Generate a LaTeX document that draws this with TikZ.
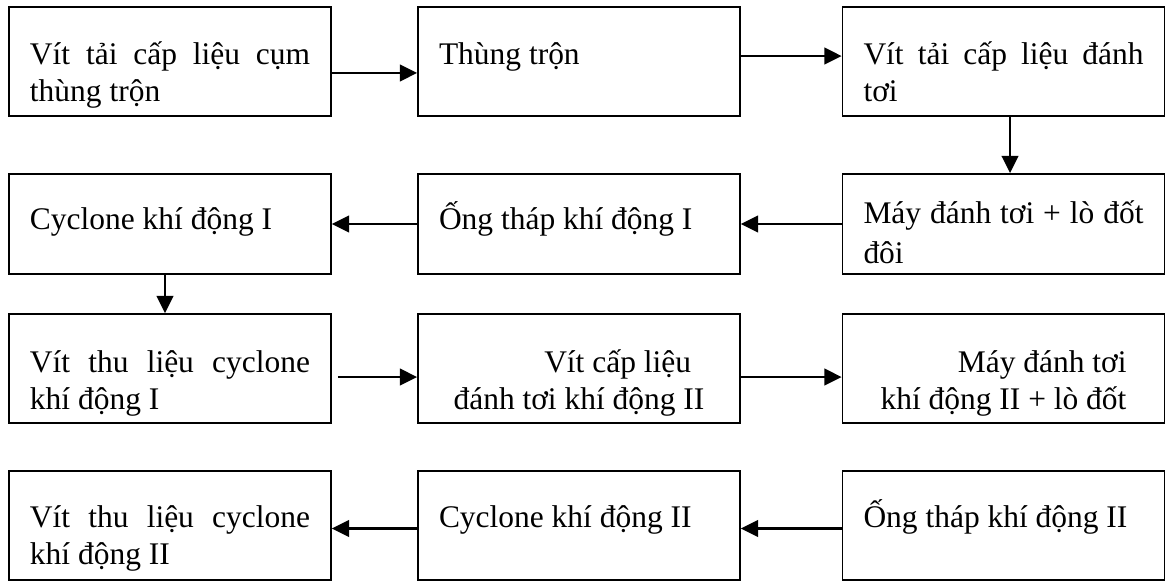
\documentclass[tikz,border=0pt]{standalone}
\usepackage{fontspec}
\setmainfont{Liberation Serif}
\usetikzlibrary{arrows.meta}

\begin{document}
\begin{tikzpicture}[x=0.75pt, y=-0.75pt,
		flowbox/.style 2 args={draw, rectangle, line width=1.3pt,
			inner xsep=15.75pt, inner ysep=0pt,
			font=\fontsize{23.6}{27.75}\selectfont,
			execute at begin node={\begin{minipage}[c][#1][t]{210pt}%
				\tolerance=9999\hyphenpenalty=10000\noindent\rule{0pt}{#2}\ignorespaces},
			execute at end node={\end{minipage}}},
		rowone/.style={flowbox={81.75pt}{43.5pt}},
		rowtwo/.style={flowbox={75pt}{42pt}},
		rowtwob/.style={flowbox={75pt}{37pt}},
		rowthree/.style={flowbox={81.75pt}{44pt}},
		rowfour/.style={flowbox={81.75pt}{42.5pt}},
		flow/.style={line width=1.7pt, -{Triangle[length=13pt,width=12.5pt]}}]

	\useasboundingbox (0,0) rectangle (1165,585);

	\draw
		(170,61.5) node[rowone] (vitcap) {Vít tải cấp liệu cụm thùng trộn}
		(579,61.5) node[rowone] (thung) {Thùng trộn}
		(1003.5,61.5) node[rowone] (vitdanh) {Vít tải cấp liệu đánh tơi}

		(1003.5,224) node[rowtwob] (maydanh) {\baselineskip=30pt Máy đánh tơi + lò đốt đôi\par}
		(579,224) node[rowtwo] (ong1) {Ống tháp khí động I}
		(170,224) node[rowtwo] (cyc1) {Cyclone khí động I}

		(170,368.5) node[rowthree] (vitthu1) {Vít thu liệu cyclone khí động I}
		(579,368.5) node[rowthree] (vitcap2) {\centering\hspace*{58pt}Vít cấp liệu\\ đánh tơi khí động II\par}
		(1003.5,368.5) node[rowthree] (may2) {\centering\hspace*{58pt}Máy đánh tơi\\ khí động II + lò đốt\par}

		(1003.5,525.5) node[rowfour] (ong2) {Ống tháp khí động II}
		(579,525.5) node[rowfour] (cyc2) {Cyclone khí động II}
		(170,525.5) node[rowfour] (vitthu2) {Vít thu liệu cyclone khí động II};

	% first row
	\draw[flow] ([yshift=-8.6pt]vitcap.east) -- ([yshift=-8.6pt]thung.west);
	\draw[flow] ([yshift=4.1pt]thung.east) -- ([yshift=4.1pt]vitdanh.west);
	\draw[flow] ([xshift=4.9pt]vitdanh.south) -- ([xshift=4.9pt]maydanh.north);

	% second row
	\draw[flow] (maydanh.west) -- (ong1.east);
	\draw[flow] (ong1.west) -- (cyc1.east);
	\draw[flow] ([xshift=-3.75pt]cyc1.south) -- ([xshift=-3.75pt]vitthu1.north);

	% third row
	\draw[flow] ([xshift=4.5pt,yshift=-6.4pt]vitthu1.east) -- ([yshift=-6.4pt]vitcap2.west);
	\draw[flow] ([yshift=-6.4pt]vitcap2.east) -- ([yshift=-6.4pt]may2.west);

	% fourth row
	\draw[flow] ([yshift=-2.25pt]ong2.west) -- ([yshift=-2.25pt]cyc2.east);
	\draw[flow] ([yshift=-2.25pt]cyc2.west) -- ([yshift=-2.25pt]vitthu2.east);
\end{tikzpicture}
\end{document}
